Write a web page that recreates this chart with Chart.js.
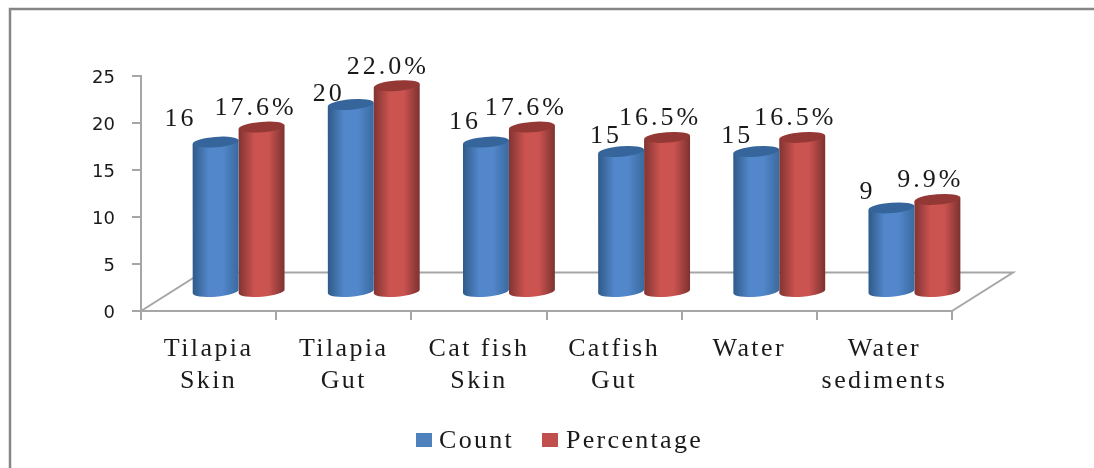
<!DOCTYPE html>
<html>
<head>
<meta charset="utf-8">
<title>Count and percentage by source</title>
<style>
  html, body { margin: 0; padding: 0; background: #fff; }
  canvas { display: block; }
</style>
<script src="https://cdn.jsdelivr.net/npm/chart.js@4/dist/chart.umd.min.js"></script>
</head>
<body>
<canvas id="chart" width="1094" height="468"></canvas>
<script>
var categories = [
  ['Tilapia', 'Skin'],
  ['Tilapia', 'Gut'],
  ['Cat fish', 'Skin'],
  ['Catfish', 'Gut'],
  ['Water'],
  ['Water', 'sediments']
];
var counts = [16, 20, 16, 15, 15, 9];
var percentages = [17.6, 22.0, 17.6, 16.5, 16.5, 9.9];
var yTicks = [0, 5, 10, 15, 20, 25];

var SERIF = '"Liberation Serif", serif';
var AXIS_GREY = '#a6a6a6';

// floor depth, bars stand halfway back on it
var FLOOR_DX = 61, FLOOR_DY = -38.5;
var BAR_DX = 30, BAR_DY = -18.5;

// where each value label sits, relative to the top of its cylinder
var countLabelShift = [[-35, -23], [-22, -10], [-21, -20], [-15, -15], [-19, -15], [-24, -16]];
var pctLabelShift = [[-6, -19], [-9, -19], [-6, -19], [-7, -19], [-7, -19], [-7, -19]];

var palette = [
  { swatch: '#4f81bd', edgeL: '#2f5a88', mid: '#5287cb', edgeR: '#3a6a9f', cap: '#35659a' },
  { swatch: '#c0504d', edgeL: '#813432', mid: '#cb5350', edgeR: '#7c3230', cap: '#943836' }
];

// category axis whose labels get the wide tracking
class TrackedCategory extends Chart.CategoryScale {
  drawLabels(area) {
    var ctx = this.ctx;
    ctx.save();
    ctx.letterSpacing = '2.4px';
    super.drawLabels(area);
    ctx.restore();
  }
}
TrackedCategory.id = 'trackedCategory';
TrackedCategory.defaults = Chart.CategoryScale.defaults;
Chart.register(TrackedCategory);

function drawCylinder(ctx, bar, colors) {
  var half = bar.width / 2;
  var cx = bar.x + BAR_DX;
  var top = bar.y + BAR_DY;
  var bottom = bar.base + BAR_DY;
  var ry = 5.2;
  var tilt = -0.08;
  var rise = half * Math.sin(tilt);

  var body = ctx.createLinearGradient(cx - half, 0, cx + half, 0);
  body.addColorStop(0, colors.edgeL);
  body.addColorStop(0.35, colors.mid);
  body.addColorStop(0.65, colors.mid);
  body.addColorStop(1, colors.edgeR);

  ctx.fillStyle = body;
  ctx.beginPath();
  ctx.moveTo(cx - half, top - rise);
  ctx.lineTo(cx + half, top + rise);
  ctx.lineTo(cx + half, bottom + rise);
  ctx.ellipse(cx, bottom, half, ry, tilt, 0, Math.PI);
  ctx.closePath();
  ctx.fill();

  ctx.fillStyle = colors.cap;
  ctx.beginPath();
  ctx.ellipse(cx, top, half, ry, tilt, 0, Math.PI * 2);
  ctx.fill();
}

function drawValueLabel(ctx, text, x, y) {
  ctx.save();
  ctx.font = '26px ' + SERIF;
  ctx.fillStyle = '#1a1a1a';
  ctx.textAlign = 'center';
  ctx.textBaseline = 'middle';
  ctx.letterSpacing = '3px';
  ctx.fillText(text, x, y);
  ctx.restore();
}

var cylinderChart = {
  id: 'cylinderChart',
  beforeDraw: function(chart) {
    var ctx = chart.ctx;
    var x = chart.scales.x;
    var y0 = chart.scales.y.getPixelForValue(0);

    // outer frame, open on the right and at the bottom
    ctx.save();
    ctx.strokeStyle = '#868686';
    ctx.lineWidth = 2.5;
    ctx.beginPath();
    ctx.moveTo(10, 468);
    ctx.lineTo(10, 9);
    ctx.lineTo(1094, 9);
    ctx.stroke();

    // floor of the plot
    ctx.strokeStyle = AXIS_GREY;
    ctx.lineWidth = 2;
    ctx.beginPath();
    ctx.moveTo(x.left, y0);
    ctx.lineTo(x.left + FLOOR_DX, y0 + FLOOR_DY);
    ctx.lineTo(x.right + FLOOR_DX, y0 + FLOOR_DY);
    ctx.lineTo(x.right, y0);
    ctx.stroke();
    ctx.restore();
  },
  beforeDatasetDraw: function(chart, args) {
    // the flat bars are replaced by cylinders at the same scale positions
    var ctx = chart.ctx;
    ctx.save();
    args.meta.data.forEach(function(bar) {
      drawCylinder(ctx, bar, palette[args.index]);
    });
    ctx.restore();
    return false;
  },
  afterDatasetsDraw: function(chart) {
    var ctx = chart.ctx;
    chart.getDatasetMeta(0).data.forEach(function(bar, i) {
      drawValueLabel(ctx, String(counts[i]),
        bar.x + BAR_DX + countLabelShift[i][0], bar.y + BAR_DY + countLabelShift[i][1]);
    });
    chart.getDatasetMeta(1).data.forEach(function(bar, i) {
      drawValueLabel(ctx, percentages[i].toFixed(1) + '%',
        bar.x + BAR_DX + pctLabelShift[i][0], bar.y + BAR_DY + pctLabelShift[i][1]);
    });
  },
  afterDraw: function(chart) {
    // legend row, tracked like the other serif text
    var ctx = chart.ctx;
    var rows = [{ x: 416, textX: 439 }, { x: 542, textX: 566 }];
    ctx.save();
    ctx.font = '26px ' + SERIF;
    ctx.textBaseline = 'middle';
    ctx.letterSpacing = '2.3px';
    chart.data.datasets.forEach(function(ds, i) {
      ctx.fillStyle = palette[i].swatch;
      ctx.fillRect(rows[i].x, 433, 16, 14);
      ctx.fillStyle = '#1a1a1a';
      ctx.fillText(ds.label, rows[i].textX, 441);
    });
    ctx.restore();
  }
};

new Chart(document.getElementById('chart'), {
  type: 'bar',
  data: {
    labels: categories,
    datasets: [
      { label: 'Count', data: counts, backgroundColor: palette[0].swatch },
      { label: 'Percentage', data: percentages, backgroundColor: palette[1].swatch }
    ]
  },
  options: {
    responsive: false,
    animation: false,
    layout: { padding: { left: 0, top: 76, right: 142, bottom: 0 } },
    datasets: { bar: { categoryPercentage: 0.68, barPercentage: 1 } },
    plugins: {
      legend: { display: false },
      title: { display: false },
      tooltip: { enabled: false }
    },
    scales: {
      x: {
        type: 'trackedCategory',
        grid: { drawOnChartArea: false, color: AXIS_GREY, lineWidth: 2, tickLength: 9 },
        border: { color: AXIS_GREY, width: 2 },
        ticks: {
          color: '#1a1a1a',
          padding: 13,
          maxRotation: 0,
          autoSkip: false,
          font: { family: SERIF, size: 26, lineHeight: 1.23 }
        },
        afterFit: function(scale) { scale.height = 157; }
      },
      y: {
        min: 0,
        max: 25,
        afterBuildTicks: function(scale) {
          scale.ticks = yTicks.map(function(v) { return { value: v }; });
        },
        grid: { drawOnChartArea: false, color: AXIS_GREY, lineWidth: 2, tickLength: 9 },
        border: { color: AXIS_GREY, width: 2 },
        ticks: {
          color: '#1a1a1a',
          padding: 17,
          labelOffset: 2.5,
          font: { family: '"DejaVu Sans", sans-serif', size: 18 }
        },
        afterFit: function(scale) { scale.width = 141; }
      }
    }
  },
  plugins: [cylinderChart]
});
</script>
</body>
</html>
